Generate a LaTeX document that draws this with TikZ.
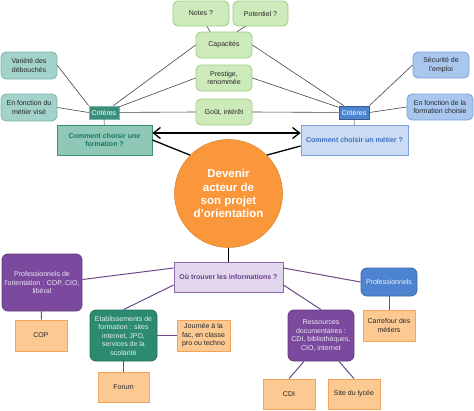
\documentclass[tikz,border=0pt]{standalone}
\usepackage{fontspec}
\setmainfont{Liberation Sans}
\usetikzlibrary{arrows.meta,calc}
\definecolor{gfill}{HTML}{CDEABB}
\definecolor{gdraw}{HTML}{9CCC7E}
\definecolor{tfill}{HTML}{A3D2CB}
\definecolor{tdraw}{HTML}{78B5AB}
\definecolor{bfill}{HTML}{A9C7EE}
\definecolor{bdraw}{HTML}{7AA2DC}
\definecolor{tdark}{HTML}{3A8F7B}
\definecolor{bdark}{HTML}{4D84CF}
\definecolor{formfill}{HTML}{8FC8B7}
\definecolor{formtext}{HTML}{17775F}
\definecolor{metfill}{HTML}{CADBF3}
\definecolor{mettext}{HTML}{3A6FC0}
\definecolor{orangec}{HTML}{F9973A}
\definecolor{purp}{HTML}{7B4A9E}
\definecolor{purpline}{HTML}{6A4A8A}
\definecolor{lav}{HTML}{E2D6EE}
\definecolor{lavdraw}{HTML}{8D6AAB}
\definecolor{ofill}{HTML}{FCC992}
\definecolor{odraw}{HTML}{F2A558}
\definecolor{etabc}{HTML}{2C8A70}
\definecolor{linec}{HTML}{444444}
\tikzset{
  basebox/.style={inner sep=0pt, align=center, font=\fontsize{7}{8.5}\selectfont, line width=0.8pt},
  greenbox/.style={basebox, rounded corners=5pt, draw=gdraw, fill=gfill, text=black!85},
  tealbox/.style={basebox, rounded corners=5pt, draw=tdraw, fill=tfill, text=black!85},
  bluebox/.style={basebox, rounded corners=5pt, draw=bdraw, fill=bfill, text=black!85},
  critL/.style={basebox, draw=tdraw, fill=tdark, text=white},
  critR/.style={basebox, draw=bdark!70!black, fill=bdark, text=white},
  formbox/.style={basebox, draw=tdark, fill=formfill, text=formtext, font=\fontsize{7}{8.5}\selectfont\bfseries},
  metbox/.style={basebox, draw=bdraw, fill=metfill, text=mettext, font=\fontsize{7}{8.5}\selectfont\bfseries},
  purpbox/.style={basebox, rounded corners=6pt, draw=purp!80!black, fill=purp, text=white!88!purp},
  etabbox/.style={basebox, rounded corners=6pt, draw=etabc!80!black, fill=etabc, text=white!88!etabc},
  probox/.style={basebox, rounded corners=6pt, draw=bdark!80!black, fill=bdark, text=white!92!bdark},
  orbox/.style={basebox, draw=odraw, fill=ofill, text=black!85},
  oubox/.style={basebox, draw=lavdraw, fill=lav, text=purp!85!black, font=\fontsize{7}{8.5}\selectfont\bfseries},
  gline/.style={draw=linec, line width=0.6pt},
  pline/.style={draw=purpline, line width=1pt},
  bline/.style={draw=black, line width=1.3pt}
}
\begin{document}
\begin{tikzpicture}[x=1pt,y=-1pt]
\useasboundingbox (0,0) rectangle (474,410);
% green column
\node[greenbox, minimum width=56pt, minimum height=25pt] (notes) at (201,13.5) {Notes ?};
\node[greenbox, minimum width=55pt, minimum height=25pt] (potentiel) at (260.5,13.5) {Potentiel ?};
\node[greenbox, minimum width=56pt, minimum height=26pt] (capacites) at (224,45) {Capacités};
\node[greenbox, minimum width=56pt, minimum height=26pt] (prestige) at (224,78) {Prestige,\\renommée};
\node[greenbox, minimum width=56pt, minimum height=26pt] (gout) at (224,112) {Goût, intérêt};
% left side
\node[tealbox, minimum width=56pt, minimum height=27pt] (variete) at (29,65.5) {Variété des\\débouchés};
\node[tealbox, minimum width=56pt, minimum height=27pt] (metierL) at (29,107.5) {En fonction du\\métier visé};
\node[critL, minimum width=30pt, minimum height=13pt] (critl) at (104,112.5) {Critères};
\node[formbox, minimum width=95pt, minimum height=30pt] (formation) at (104.5,140) {Comment choisir une\\formation ?};
% right side
\node[bluebox, minimum width=56pt, minimum height=26pt] (securite) at (441,65) {Sécurité de\\l'emploi};
\node[bluebox, minimum width=66pt, minimum height=26pt] (formR) at (440,107) {En fonction de la\\formation choisie};
\node[critR, minimum width=30pt, minimum height=13pt] (critr) at (354,112.5) {Critères};
\node[metbox, minimum width=107pt, minimum height=30pt] (metier) at (354.5,140) {Comment choisir un métier ?};
% centre
\node[circle, fill=orangec, draw=orangec!90!black, line width=0.6pt, minimum size=108pt, inner sep=0pt, align=center, text=white, font=\fontsize{11.5}{13.2}\selectfont\bfseries] (circ) at (228.5,193.5) {Devenir\\acteur de\\son projet\\d'orientation};
\node[oubox, minimum width=109pt, minimum height=30pt] (ou) at (228.5,277) {Où trouver les informations ?};
% bottom
\node[purpbox, minimum width=80pt, minimum height=57pt] (profO) at (42,282.5) {Professionnels de\\l'orientation : COP, CIO,\\libéral};
\node[orbox, minimum width=52pt, minimum height=31pt] (cop) at (41,335.5) {COP};
\node[etabbox, minimum width=67pt, minimum height=51pt] (etab) at (123.5,335.5) {Etablissements de\\formation : sites\\internet, JPO,\\services de la\\scolarité};
\node[orbox, minimum width=53pt, minimum height=31pt] (journee) at (203.5,335.5) {Journée à la\\fac, en classe\\pro ou techno};
\node[orbox, minimum width=51pt, minimum height=30pt] (forum) at (123.5,387) {Forum};
\node[probox, minimum width=56pt, minimum height=28pt] (pro) at (389,282) {Professionnels};
\node[orbox, minimum width=52pt, minimum height=31pt] (carrefour) at (389,325.5) {Carrefour des\\métiers};
\node[purpbox, minimum width=66pt, minimum height=51pt] (ress) at (321,335.5) {Ressources\\documentaires :\\CDI, bibliothèques,\\CIO, internet};
\node[orbox, minimum width=52pt, minimum height=30pt] (cdi) at (289,394) {CDI};
\node[orbox, minimum width=52pt, minimum height=30pt] (site) at (354,394) {Site du lycée};
% connectors: green/grey
\draw[gline] ([xshift=6pt]notes.south) -- ([xshift=-14pt]capacites.north);
\draw[gline] ([xshift=-15pt]potentiel.south) -- ([xshift=13pt]capacites.north);
\draw[gline] (critl) -- (capacites.west);
\draw[gline] (critl) -- (prestige.west);
\draw[gline] (critl) -- (gout.west);
\draw[gline] (critr) -- (capacites.east);
\draw[gline] (critr) -- (prestige.east);
\draw[gline] (critr) -- (gout.east);
\draw[gline] (variete.east) -- (critl.north west);
\draw[gline] (metierL.east) -- (critl.west);
\draw[gline] (critl) -- (formation);
\draw[gline] (securite.west) -- (critr.north east);
\draw[gline] (formR.west) -- (critr.east);
\draw[gline] (critr) -- (metier);
% black connectors
\draw[bline, {Straight Barb[length=7pt,width=11pt]}-{Straight Barb[length=7pt,width=11pt]}] ([yshift=7pt]formation.east) -- ([yshift=7pt]metier.west);
\draw[bline] (formation.east) -- (circ.135);
\draw[bline] ([yshift=-6pt]metier.west) -- (circ.45);
\draw[bline] (circ) -- (ou);
% purple connectors
\draw[pline] ([yshift=9pt]ou.west) -- ([yshift=3pt]profO.east);
\draw[pline] ([yshift=-8pt]ou.west) -- (etab.north);
\draw[pline] ([yshift=9pt]ou.east) -- (pro.west);
\draw[pline] ([yshift=-8pt]ou.east) -- (ress.north);
\draw[pline] (profO) -- (cop);
\draw[pline] (etab) -- (journee);
\draw[pline] (etab) -- (forum);
\draw[pline] (pro) -- (carrefour);
\draw[pline] ([xshift=-17pt]ress.south) -- (cdi.north);
\draw[pline] ([xshift=18pt]ress.south) -- (site.north);
\end{tikzpicture}
\end{document}
